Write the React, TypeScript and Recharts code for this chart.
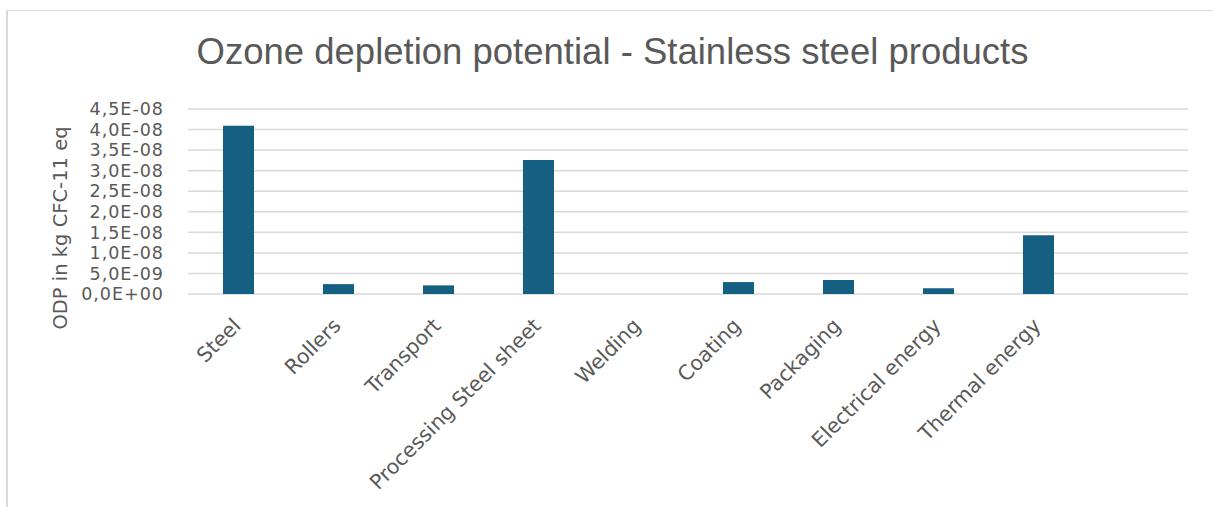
import React from 'react';
import { BarChart, Bar, XAxis, YAxis, CartesianGrid } from 'recharts';

// ODP per life-cycle stage, kg CFC-11 eq
const stages = [
  'Steel',
  'Rollers',
  'Transport',
  'Processing Steel sheet',
  'Welding',
  'Coating',
  'Packaging',
  'Electrical energy',
  'Thermal energy',
  '',
];
const odpValues = [4.09e-8, 2.4e-9, 2.1e-9, 3.26e-8, 0, 2.9e-9, 3.4e-9, 1.4e-9, 1.43e-8, 0];
const yTicks = [0, 5e-9, 1e-8, 1.5e-8, 2e-8, 2.5e-8, 3e-8, 3.5e-8, 4e-8, 4.5e-8];

const TEXT = '#595959';
const GRID = '#d9d9d9';
const BAR = '#156082';
const FONT = '"DejaVu Sans", sans-serif';

const data = stages.map((stage, i) => ({ stage, odp: odpValues[i] }));

// Excel-style scientific notation with a decimal comma: 4,5E-08
const formatSci = (value: number) => {
  const [mant, exp] = value.toExponential(1).split('e');
  const sign = exp.startsWith('-') ? '-' : '+';
  const digits = exp.replace(/[+-]/, '').padStart(2, '0');
  return `${mant.replace('.', ',')}E${sign}${digits}`;
};

const AngledTick = (props: any) => {
  const { x, y, payload } = props;
  return (
    <g transform={`translate(${x + 4},${y + 25})`}>
      <text
        x={0}
        y={0}
        textAnchor="end"
        fill={TEXT}
        fontSize={20.5}
        fontFamily={FONT}
        transform="rotate(-45)"
      >
        {payload.value}
      </text>
    </g>
  );
};

export default function App() {
  return (
    <div style={{ position: 'absolute', left: 0, top: 0, width: 1213, height: 507, overflow: 'hidden', background: '#fff' }}>
      <div
        style={{
          position: 'absolute',
          left: 6,
          top: 10,
          width: 1230,
          height: 520,
          borderLeft: `2px solid ${GRID}`,
          borderTop: `1px solid ${GRID}`,
        }}
      />
      <div
        style={{
          position: 'absolute',
          left: 6,
          width: 1213,
          top: 34,
          textAlign: 'center',
          fontFamily: '"Liberation Sans", Arial, sans-serif',
          fontSize: 36.5,
          lineHeight: '36.5px',
          color: TEXT,
          whiteSpace: 'nowrap',
        }}
      >
        Ozone depletion potential - Stainless steel products
      </div>
      <div
        style={{
          position: 'absolute',
          left: 60,
          top: 228,
          transform: 'translate(-50%, -50%) rotate(-90deg)',
          fontFamily: FONT,
          fontSize: 19.5,
          color: TEXT,
          whiteSpace: 'nowrap',
        }}
      >
        ODP in kg CFC-11 eq
      </div>
      <div style={{ position: 'absolute', left: 0, top: 0 }}>
        <BarChart
          width={1213}
          height={507}
          data={data}
          margin={{ top: 109, right: 25, left: 0, bottom: 13 }}
        >
          <CartesianGrid vertical={false} stroke={GRID} strokeWidth={1.5} />
          <XAxis
            dataKey="stage"
            interval={0}
            axisLine={false}
            tickLine={false}
            height={200}
            tick={<AngledTick />}
          />
          <YAxis
            width={188}
            domain={[0, 4.5e-8]}
            ticks={yTicks}
            interval={0}
            tickFormatter={formatSci}
            axisLine={false}
            tickLine={false}
            tickSize={0}
            tickMargin={24}
            tick={{ fill: TEXT, fontSize: 17.5, fontFamily: FONT, letterSpacing: 1 }}
          />
          <Bar dataKey="odp" fill={BAR} barSize={31} isAnimationActive={false} />
        </BarChart>
      </div>
    </div>
  );
}
